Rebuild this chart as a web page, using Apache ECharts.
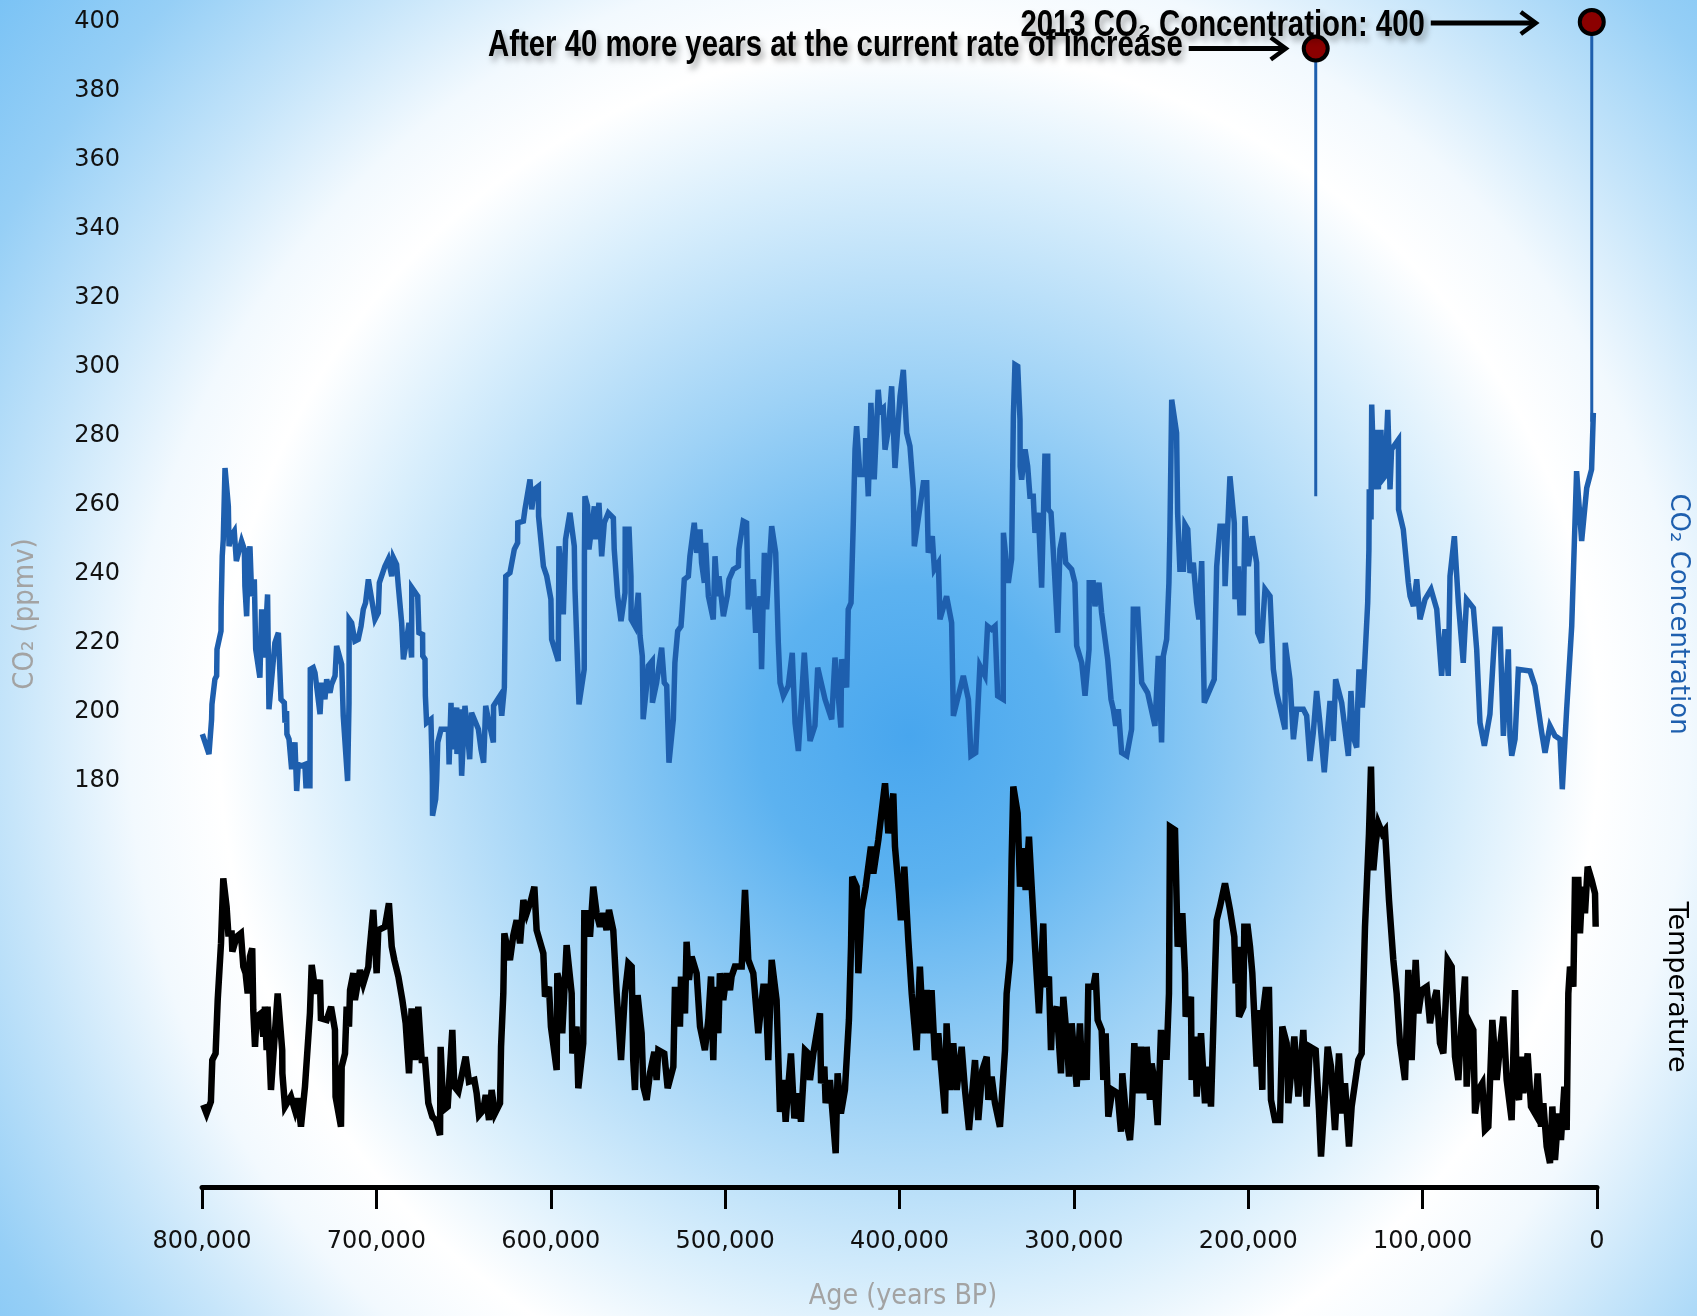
<!DOCTYPE html>
<html><head><meta charset="utf-8">
<script src="https://cdn.jsdelivr.net/npm/echarts@6/dist/echarts.min.js"></script>
<style>
html,body{margin:0;padding:0;width:1697px;height:1316px;overflow:hidden;}
body{background: radial-gradient(circle at 909px 736px, #48a6ee 0px, #5cb2f0 150px, #9ed2f6 360px, #d8eefc 560px, #ffffff 690px, #f2f9fe 780px, #c6e5fa 900px, #96cff6 1040px, #74c0f5 1200px);}
#main{width:1697px;height:1316px;}
</style></head><body><div id="main"></div>
<script>
// ---- Data (age in years BP, CO2 in ppmv, temperature anomaly in deg C) ----
const co2Ticks = [180,200,220,240,260,280,300,320,340,360,380,400];
const ageTickStep = 100000;

const co2Record = [
[799800,193.4],[796000,187.6],[794500,197.7],[794300,202.0],[792600,209.3],[791600,210.3],[791400,218.0],[789100,223.3],[789000,230.5],[788400,245.0],[787800,249.9],[786800,270.6],[784900,259.5],[784500,247.9],[783400,250.8],[781500,252.3],[780300,243.6],[777300,249.4],[775700,247.0],[775400,236.3],[774400,227.6],[773500,243.1],[772500,247.9],[771500,233.4],[770000,238.3],[769200,218.0],[766800,209.8],[765800,229.6],[764300,215.6],[762400,233.9],[761600,200.6],[758200,219.9],[756200,222.8],[754700,203.5],[752800,202.5],[752400,196.7],[751500,200.1],[751300,193.4],[750100,191.9],[748600,183.2],[746700,191.0],[745700,176.9],[744800,184.6],[742900,184.2],[741000,184.6],[740400,178.4],[738100,178.4],[737900,212.2],[736200,212.7],[735200,211.2],[732300,199.2],[731400,208.3],[729500,203.5],[728500,209.3],[726600,205.4],[725700,207.8],[723700,210.3],[722800,219.0],[719900,213.6],[719000,198.7],[716500,179.8],[715700,202.5],[715600,226.7],[714200,225.7],[712300,220.4],[710400,220.9],[708800,224.7],[707500,229.6],[706200,231.5],[704600,238.3],[700800,226.7],[698900,228.6],[698300,237.3],[695100,242.1],[693200,244.1],[691200,239.2],[690300,244.6],[688400,242.6],[687400,236.3],[685500,225.7],[684500,215.1],[682600,220.9],[681300,225.7],[679800,215.6],[679700,235.9],[676300,233.4],[675600,222.8],[673500,222.3],[673400,216.1],[672100,215.1],[671900,204.5],[671200,196.7],[668700,197.7],[667900,181.3],[667800,169.7],[666000,174.5],[665400,180.3],[664800,191.0],[662900,194.8],[658700,194.8],[658300,184.6],[657200,202.5],[656400,189.0],[653900,201.1],[653800,187.6],[652000,200.6],[651100,181.3],[649200,201.6],[647600,192.9],[646500,186.1],[645400,199.6],[641500,194.8],[640000,189.0],[638500,185.1],[637300,201.6],[635800,197.7],[632900,191.0],[632800,201.6],[629100,204.5],[628100,198.7],[626600,206.9],[625800,239.2],[623400,240.2],[620900,247.0],[619000,248.9],[618900,254.7],[615700,255.2],[614800,258.6],[611900,267.3],[610900,258.6],[609400,264.4],[607100,265.3],[607000,256.6],[604200,242.1],[602300,239.2],
[599900,232.5],[599500,220.9],[595700,214.6],[595300,247.9],[593400,237.3],[592800,228.1],[591500,249.9],[589000,257.6],[586500,247.9],[586100,235.4],[583800,202.0],[580800,212.2],[580700,245.0],[580400,262.4],[578900,259.5],[578100,247.0],[575000,259.5],[574300,249.9],[572350,260.5],[570800,245.0],[569300,254.7],[567000,257.6],[564100,256.1],[563600,247.0],[561650,233.4],[559700,226.2],[557400,234.4],[557300,252.8],[555100,252.8],[554000,239.2],[553900,226.7],[551700,224.7],[549800,234.4],[548800,221.9],[547500,216.1],[547000,197.7],[545000,207.4],[544060,213.2],[541800,214.6],[541700,202.5],[539300,208.3],[536400,218.5],[534900,208.3],[533500,207.4],[532200,185.1],[529700,197.7],[528800,214.1],[527200,223.3],[525300,224.7],[524600,229.6],[523400,238.3],[521100,239.2],[520200,245.0],[517700,254.7],[516300,246.0],[514400,252.8],[513500,243.1],[511900,237.3],[511200,248.9],[509600,233.4],[506800,226.7],[505800,245.0],[504300,233.4],[503500,239.2],[501000,227.6],[498600,233.9],[497800,238.3],[495300,241.2],[492400,242.1],[492100,247.0],[489600,255.2],[487700,254.7],[486700,229.6],[483800,238.3],[482500,222.8],[480000,233.4],[479100,212.2],[477500,246.0],[476200,229.6],[473300,253.7],[471000,246.0],[469500,219.9],[468500,208.3],[466600,204.5],[463800,207.4],[461500,217.0],[459900,196.7],[458000,188.5],[454600,217.0],[451300,191.4],[448500,195.8],[446900,212.7],[442700,203.5],[438900,197.7],[437000,215.6],[433600,195.3],[433200,215.1],[430300,206.9],[429400,229.6],[427800,231.5],[426500,254.7],[425500,275.9],[424600,282.7],[422700,268.7],[419800,268.7],[419400,279.3],[417900,262.4],[416400,289.5],[414500,267.3],[412200,293.3],[411200,287.1],[409300,288.0],[408300,275.9],[406400,281.7],[404500,294.3],[402600,270.6],[399700,291.4],
[397800,299.1],[395900,280.8],[394000,276.9],[392100,264.4],[391500,247.9],[386300,266.3],[384400,266.3],[383500,246.0],[381200,250.8],[380000,241.2],[377700,243.1],[376800,226.7],[373000,233.4],[370100,225.7],[369100,198.7],[363400,210.3],[360500,203.5],[359000,187.1],[356300,188.0],[353900,213.2],[351000,210.3],[349500,224.7],[347200,223.8],[345200,224.7],[343700,204.5],[340500,203.5],[340400,251.8],[337600,237.3],[335700,244.1],[334700,285.6],[333800,300.6],[332200,300.1],[330900,284.6],[330800,271.1],[329950,267.2],[328000,276.0],[326500,271.1],[325200,262.4],[323300,262.4],[322300,251.8],[320400,257.6],[318500,235.9],[316600,274.0],[315000,274.0],[314700,258.6],[313100,257.6],[311200,241.2],[309300,222.8],[308000,247.0],[306100,251.8],[304700,243.1],[301300,241.2],[299400,237.3],[298400,219.0],[295500,214.1],[293600,204.5],[291300,218.0],[291200,237.3],[288900,237.3],[287900,230.5],[285600,237.3],[284100,228.6],[280600,215.1],[278700,203.5],[277400,200.6],[276000,195.8],[274500,200.6],[272600,188.0],[269700,187.1],[266900,194.8],[265900,229.6],[263400,229.6],[261100,208.3],[257700,205.4],[253500,195.8],[251600,216.1],[249700,191.0],[248700,216.1],[246800,220.9],[245500,237.3],[244900,252.8],[243900,290.4],[241100,280.8],[240500,257.6],[239200,241.2],[237200,241.2],[236300,254.2],[234700,252.8],[233400,240.2],[231500,243.1],[229600,231.5],[228300,226.7],[226700,243.6],[225800,218.0],[225200,202.5],[219500,209.3],[218100,242.1],[216200,253.7],[213700,253.7],[213300,236.3],[210500,268.2],[208000,254.7],[207600,232.5],[205700,242.1],[204700,228.6],[202800,228.6],[201900,256.6],[199960,242.1],
[197700,250.8],[195200,243.1],[194600,222.8],[192300,219.9],[191400,227.6],[190400,235.4],[187500,233.4],[185600,212.2],[183700,205.4],[178900,194.8],[178800,219.9],[176100,209.3],[174100,191.9],[172200,200.6],[168400,200.6],[166500,198.7],[164600,185.6],[162700,193.8],[160800,205.9],[158900,196.7],[156400,182.3],[153100,203.0],[151200,191.4],[149900,209.3],[146400,202.5],[142600,187.1],[141100,205.9],[139700,192.4],[137800,189.5],[137200,202.5],[136500,212.2],[134600,201.1],[133400,212.2],[131500,231.5],[130800,247.0],[130600,264.4],[129600,255.7],[129200,289.0],[127700,264.4],[126400,281.7],[125400,264.4],[123900,281.7],[123100,267.2],[121600,268.2],[120000,287.5],[118700,264.4],[117800,276.0],[113900,278.8],[113800,258.6],[111100,252.8],[108200,237.3],[107200,233.4],[105300,230.5],[103400,238.3],[101500,226.7],[98600,232.5],[95200,235.4],[91900,229.6],[89100,210.3],[87200,223.8],[85300,210.3],[84300,239.2],[81800,250.8],[79500,231.5],[76700,214.1],[74800,232.5],[70900,230.0],[69000,218.0],[67100,196.7],[64600,190.0],[61400,199.2],[58500,223.8],[55600,223.8],[53700,192.9],[50850,218.0],[49900,192.9],[48900,187.1],[47000,191.9],[45100,212.2],[38400,211.7],[35600,207.4],[31700,193.8],[29800,188.0],[27000,195.8],[24100,192.9],[21200,191.9],[19900,177.4],[17400,200.6],[14500,224.7],[11700,269.7],[8800,249.4],[5900,264.8],[3100,270.2],[2100,286.6]
];

const tempRecord = [
[799300,-7.79],[797400,-8.10],[794900,-7.67],[794100,-6.17],[792200,-5.93],[791000,-4.00],[789100,-1.95],[787800,0.40],[785900,-0.62],[784900,-1.59],[783000,-1.59],[782600,-2.25],[780100,-1.71],[777700,-1.59],[776300,-2.79],[775000,-3.03],[773800,-3.76],[772500,-2.43],[771200,-2.13],[770600,-4.36],[769600,-5.69],[768700,-4.60],[766200,-4.48],[764850,-5.32],[763900,-4.24],[762950,-5.81],[762400,-4.24],[760450,-7.25],[758200,-5.20],[756600,-3.76],[754000,-5.81],[753900,-6.65],[752400,-7.85],[749000,-7.49],[746700,-7.98],[745160,-7.55],[743250,-8.58],[740950,-7.13],[738100,-4.48],[737100,-2.73],[734830,-3.76],[732350,-3.27],[731800,-4.66],[728500,-4.72],[726000,-4.24],[723750,-5.08],[723400,-7.49],[720300,-8.58],[719900,-6.41],[718000,-5.93],[717050,-4.24],[715700,-4.96],[715100,-3.64],[713200,-3.03],[712300,-4.00],[709400,-2.91],[707500,-3.40],[704600,-2.79],[704250,-2.43],[701750,-0.74],[699850,-3.03],[698900,-1.47],[695100,-1.35],[692800,-0.50],[691200,-2.07],[689700,-2.55],[687400,-3.15],[685100,-4.00],[683200,-4.84],[681300,-6.65],[679800,-4.30],[677850,-6.17],[675950,-4.24],[674000,-6.17],[672100,-6.17],[670200,-7.73],[667900,-8.22],[666000,-8.34],[663500,-8.88],[663150,-5.69],[661600,-7.98],[659100,-7.85],[656450,-5.08],[655300,-7.13],[653000,-7.31],[648800,-6.05],[646900,-6.95],[643800,-6.89],[642500,-7.37],[641150,-8.16],[638700,-7.98],[637300,-7.43],[635400,-8.34],[633900,-7.25],[632000,-8.10],[629100,-7.73],[628500,-5.69],[627200,-3.76],[626600,-1.59],[623400,-2.55],[621450,-1.65],[619550,-1.11],[617600,-1.95],[615700,-0.38],[613800,-0.86],[611300,-0.38],[609400,0.10],[608100,-1.47],[604250,-2.31],[603300,-3.88],[601000,-3.52],
[599900,-4.96],[596600,-6.53],[596250,-3.03],[593800,-3.64],[593400,-5.20],[590900,-2.01],[588000,-3.76],[587600,-5.93],[585200,-4.96],[584200,-7.19],[581350,-5.56],[580750,-0.86],[578500,-0.86],[577500,-1.71],[575600,0.10],[573700,-0.86],[571800,-1.35],[569900,-0.86],[568000,-1.47],[566600,-0.74],[564150,-1.47],[562200,-3.76],[559700,-6.17],[557450,-3.76],[555500,-2.67],[553600,-2.79],[552700,-6.17],[551700,-7.25],[550200,-3.82],[547900,-5.20],[546900,-7.13],[545000,-7.61],[543100,-6.65],[540600,-5.87],[539300,-6.89],[538300,-5.81],[534900,-5.93],[532950,-7.19],[529700,-6.41],[528800,-3.64],[527200,-3.64],[525900,-4.96],[525300,-3.15],[523000,-4.48],[522100,-1.89],[520750,-3.27],[519200,-2.43],[516350,-3.03],[514400,-4.96],[511600,-5.81],[509650,-4.72],[508100,-3.15],[506800,-6.17],[505800,-3.52],[503900,-5.20],[503000,-3.03],[501050,-4.00],[499100,-3.03],[497200,-3.64],[496300,-3.15],[494400,-2.79],[490500,-2.79],[488600,-0.02],[486700,-2.55],[483850,-3.03],[481000,-5.20],[478100,-3.52],[476800,-3.52],[475250,-6.17],[473300,-2.55],[470500,-4.00],[468550,-8.04],[466600,-6.89],[465300,-8.40],[463800,-7.13],[462250,-5.93],[460300,-8.28],[458000,-7.37],[456500,-8.40],[454200,-5.81],[452300,-5.93],[451350,-6.89],[449400,-5.93],[445600,-4.48],[445000,-7.01],[443100,-6.41],[442350,-7.73],[439900,-6.89],[436600,-9.54],[435500,-6.65],[433600,-8.10],[431300,-7.25],[429000,-4.72],[427800,-2.07],[427100,0.46],[424600,0.10],[423600,-3.03],[421700,-0.74],[419400,0.10],[416400,1.55],[415000,0.58],[412150,1.79],[408300,3.84],[406400,2.03],[403550,3.47],[402600,1.55],[400300,-0.14],
[399200,-1.11],[397250,0.82],[394950,-1.83],[393000,-3.76],[390200,-5.81],[388300,-2.79],[386350,-5.20],[384400,-3.64],[382550,-5.20],[381600,-3.64],[379650,-6.17],[377750,-5.20],[373900,-8.10],[373000,-4.84],[371050,-7.25],[369150,-5.56],[367200,-7.25],[364350,-5.69],[362450,-7.25],[360150,-8.70],[356700,-6.17],[354800,-8.34],[352500,-6.53],[350000,-6.05],[349050,-7.61],[347150,-6.77],[345250,-7.73],[342400,-8.58],[339500,-5.81],[338550,-3.76],[336650,-2.55],[335700,1.06],[334730,3.72],[332250,2.75],[330900,0.10],[329000,1.49],[327650,-0.02],[325750,1.91],[324200,0.10],[322300,-2.07],[320000,-4.48],[317550,-1.23],[316570,-3.52],[314300,-3.15],[313130,-5.81],[312370,-4.60],[309880,-4.24],[307400,-6.65],[306050,-3.88],[304150,-5.32],[302800,-6.77],[301280,-4.84],[298400,-7.13],[296500,-4.84],[295160,-6.89],[293630,-5.93],[292670,-6.89],[291720,-3.52],[288850,-3.52],[287500,-3.03],[286360,-4.72],[284070,-5.08],[283110,-6.89],[281780,-5.20],[280250,-8.22],[277950,-7.25],[274900,-7.37],[273000,-8.76],[272220,-6.65],[269730,-8.46],[267820,-9.06],[266870,-8.22],[265330,-5.56],[263420,-7.37],[261510,-5.69],[259600,-7.37],[258260,-5.69],[256350,-7.61],[255400,-6.29],[253870,-6.89],[251950,-8.52],[250040,-5.08],[248700,-6.05],[246800,-6.05],[245460,-3.76],[244880,2.27],[242000,2.15],[240480,-2.07],[237800,-0.86],[236280,-3.03],[235900,-4.60],[232840,-3.88],[232460,-6.89],[230540,-5.32],[229590,-7.49],[227100,-5.20],[224810,-7.73],[222900,-6.41],[221370,-7.85],[219460,-3.76],[218120,-1.11],[216200,-0.62],[213340,0.22],[210470,-0.74],[208000,-1.71],[207220,-3.40],[206070,-2.07],[205300,-4.60],[202830,-4.24],[202250,-1.35],[200340,-1.35],
[199000,-2.07],[197670,-3.03],[195180,-6.41],[193840,-4.36],[191930,-7.25],[191360,-4.36],[190020,-3.64],[188110,-3.64],[186960,-7.61],[184670,-8.34],[181800,-8.34],[180460,-4.96],[177970,-5.56],[177020,-7.73],[173580,-5.32],[171280,-7.49],[168420,-5.08],[166500,-7.85],[164600,-5.69],[161340,-5.81],[159430,-7.98],[158280,-9.66],[155990,-7.37],[154460,-5.69],[152550,-6.41],[150260,-8.70],[147960,-5.93],[146050,-8.10],[144520,-7.01],[142230,-9.30],[140700,-7.85],[136870,-6.17],[134960,-5.93],[133050,-1.35],[130760,2.03],[129610,4.44],[128270,0.70],[126930,1.67],[125400,2.39],[123110,2.03],[121580,2.15],[119290,-0.38],[116800,-2.55],[114890,-3.76],[112980,-5.56],[110110,-6.89],[108200,-2.91],[106290,-6.17],[103990,-2.55],[102460,-4.48],[100550,-3.64],[97680,-3.52],[95770,-4.84],[93860,-4.12],[91950,-3.64],[90040,-5.56],[88120,-5.93],[85640,-2.55],[83340,-2.79],[81430,-6.05],[79520,-6.89],[77610,-4.72],[75700,-3.15],[74740,-7.13],[72830,-4.84],[70920,-5.08],[69960,-8.10],[68050,-7.25],[65760,-7.01],[64230,-8.70],[62320,-8.58],[60020,-4.72],[57540,-6.89],[55630,-5.69],[53720,-4.60],[51800,-6.89],[48940,-8.34],[47020,-3.64],[46070,-7.25],[44730,-7.61],[43580,-6.05],[42250,-7.37],[39760,-5.93],[37850,-7.85],[35550,-8.10],[34020,-6.65],[32110,-8.58],[30770,-7.73],[28860,-9.30],[26950,-9.90],[25610,-7.85],[24090,-9.78],[22170,-8.10],[20650,-9.06],[18730,-7.13],[17390,-8.70],[16440,-3.76],[15480,-2.79],[13570,-3.52],[12620,0.34],[10700,0.34],[9750,-1.59],[8410,0.10],[6880,-0.86],[5350,0.82],[3060,0.34],[1140,-0.14],[760,-1.35]
];

// Projection marker ("after 40 more years") and 2013 value
const projAge = [161300, 161300];
const projPpm = [262.4, 392.3];
const nowAge = [3000, 3000];
const nowPpm = [284.0, 400.0];

const projLabel = 'After 40 more years at the current rate of increase';
const nowLabel = '2013 CO\u2082 Concentration: 400';

// ---- Chart ----
const chart = echarts.init(document.getElementById('main'), null, {renderer: 'canvas'});
const BLUE = '#1e5fae';
const narrow = '"Liberation Sans", Arial, sans-serif';
const regular = '"DejaVu Sans", "Lucida Grande", sans-serif';

chart.setOption({
  animation: false,
  backgroundColor: 'transparent',
  grid: {left: 202, right: 100, top: 22, bottom: 129, containLabel: false},
  xAxis: {
    type: 'value', min: 0, max: 800000, interval: ageTickStep, inverse: true,
    axisLine: {show: true, onZero: false, lineStyle: {color: '#000', width: 5}},
    axisTick: {show: true, length: 22, lineStyle: {color: '#000', width: 3}},
    splitLine: {show: false},
    axisLabel: {color: '#111', fontFamily: regular, fontSize: 24, margin: 43,
      formatter: v => v.toLocaleString('en-US')}
  },
  yAxis: [
    {type: 'value', min: 62, max: 400, position: 'left',
     axisLine: {show: false}, axisTick: {show: false}, splitLine: {show: false},
     axisLabel: {customValues: co2Ticks, color: '#111', fontFamily: regular, fontSize: 24, margin: 82}},
    {type: 'value', min: -10.76, max: 31.37, show: false}
  ],
  series: [
    {type: 'line', name: 'Temperature', data: tempRecord, yAxisIndex: 1, symbol: 'none', z: 2,
     lineStyle: {color: '#000', width: 6.5, join: 'miter', miterLimit: 4}},
    {type: 'line', name: 'CO2', data: co2Record, yAxisIndex: 0, symbol: 'none', z: 3,
     lineStyle: {color: BLUE, width: 5.5, join: 'miter', miterLimit: 4}},
    {type: 'line', name: 'Projection', data: projAge.map((a, i) => [a, projPpm[i]]), symbol: 'none', z: 3,
     lineStyle: {color: BLUE, width: 3}},
    {type: 'line', name: 'Now', data: nowAge.map((a, i) => [a, nowPpm[i]]), symbol: 'none', z: 3,
     lineStyle: {color: BLUE, width: 3}},
    {type: 'scatter', name: 'Markers', z: 10, symbol: 'circle', symbolSize: 24,
     data: [[projAge[1], projPpm[1]], [nowAge[1], nowPpm[1]]],
     itemStyle: {color: '#8b0000', opacity: 1, borderColor: '#000', borderWidth: 4}}
  ]
});

const p1 = chart.convertToPixel({xAxisIndex: 0, yAxisIndex: 0}, [projAge[1], projPpm[1]]);
const p2 = chart.convertToPixel({xAxisIndex: 0, yAxisIndex: 0}, [nowAge[1], nowPpm[1]]);

function arrow(x0, x1, y) {
  return [
    {type: 'line', shape: {x1: x0, y1: y, x2: x1 - 2, y2: y}, style: {stroke: '#000', lineWidth: 5}, z: 20},
    {type: 'polyline', shape: {points: [[x1 - 15, y - 11], [x1, y], [x1 - 15, y + 11]]},
     style: {stroke: '#000', lineWidth: 4.5, fill: null, lineJoin: 'miter'}, z: 20}
  ];
}
const annFont = 'bold 36px ' + narrow;
const shadow = {textShadowColor: 'rgba(0,0,0,0.35)', textShadowBlur: 6, textShadowOffsetX: 3, textShadowOffsetY: 5};

chart.setOption({
  graphic: [
    {type: 'text', x: p1[0] - 133, y: p1[1] - 2, scaleX: 0.815, z: 20,
     style: Object.assign({text: projLabel, font: annFont, fill: '#000', align: 'right', verticalAlign: 'middle'}, shadow)},
    {type: 'text', x: p2[0] - 167, y: p2[1] + 4, scaleX: 0.815, z: 20,
     style: Object.assign({text: nowLabel, font: annFont, fill: '#000', align: 'right', verticalAlign: 'middle'}, shadow)},
    ...arrow(p1[0] - 127, p1[0] - 30, p1[1]),
    ...arrow(p2[0] - 161, p2[0] - 56, p2[1] + 1),
    {type: 'text', x: 26, y: 614, rotation: Math.PI / 2, scaleX: 0.93,
     style: {text: 'CO\u2082 (ppmv)', font: '28px "DejaVu Sans", sans-serif', fill: '#a3a3a3', align: 'center', verticalAlign: 'middle'}},
    {type: 'text', x: 903, y: 1297, scaleX: 0.91,
     style: {text: 'Age (years BP)', font: '28px "DejaVu Sans", sans-serif', fill: '#a3a3a3', align: 'center', verticalAlign: 'middle'}},
    {type: 'text', x: 1678, y: 614, rotation: -Math.PI / 2,
     style: {text: 'CO\u2082 Concentration', font: '26px ' + regular, fill: BLUE, align: 'center', verticalAlign: 'middle'}},
    {type: 'text', x: 1676, y: 987, rotation: -Math.PI / 2,
     style: {text: 'Temperature', font: '27px ' + regular, fill: '#000', align: 'center', verticalAlign: 'middle'}}
  ]
});
</script></body></html>
